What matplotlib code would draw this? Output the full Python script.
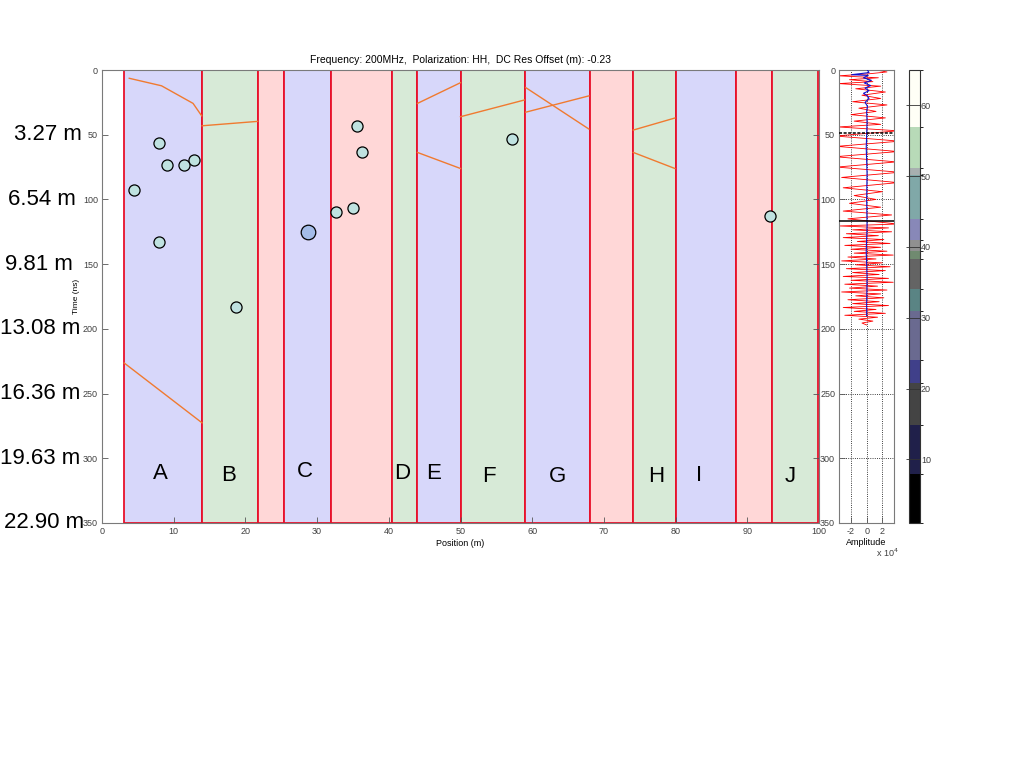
import matplotlib
matplotlib.use("Agg")
import matplotlib.pyplot as plt
from matplotlib.colors import ListedColormap, BoundaryNorm
from matplotlib.cm import ScalarMappable
from matplotlib.patches import Rectangle
from matplotlib.transforms import blended_transform_factory

plt.rcParams["font.family"] = ["Liberation Sans", "DejaVu Sans"]
plt.rcParams["axes.unicode_minus"] = False

TITLE = "Frequency: 200MHz,  Polarization: HH,  DC Res Offset (m): -0.23"

# zone edges along the profile (m) and fill type of each zone
zone_edges = [3.1, 13.95, 21.7, 25.4, 31.95, 40.4, 44.0, 50.0, 59.0, 68.0, 74.0, 80.0, 88.4, 93.4, 99.8]
zone_kind = ["b", "g", "p", "b", "p", "g", "b", "g", "b", "p", "g", "b", "p", "g"]
zone_fill = {"b": "#d7d7fa", "g": "#d7ead7", "p": "#ffd7d7"}

zone_letters = ["A", "B", "C", "D", "E", "F", "G", "H", "I", "J"]
letter_x = [8.1, 17.7, 28.3, 41.9, 46.3, 53.9, 63.5, 77.3, 83.3, 96.0]
letter_t = [312, 313, 310, 312, 312, 314, 314, 314, 313, 314]

# reflector segments: (x list, time list)
reflectors = [
    ([3.8, 8.3, 12.7, 13.9], [6.4, 12.2, 25.8, 35.4]),
    ([13.95, 21.7], [43.1, 39.7]),
    ([3.1, 13.95], [226.4, 272.6]),
    ([44.0, 50.0], [25.8, 9.8]),
    ([44.0, 50.0], [63.7, 76.1]),
    ([50.0, 58.9], [36.1, 23.2]),
    ([59.1, 67.9], [13.6, 45.6]),
    ([59.1, 67.9], [32.6, 20.0]),
    ([74.1, 79.9], [46.4, 37.1]),
    ([74.1, 79.9], [63.7, 76.1]),
]

# point targets
target_x = [7.95, 9.1, 11.5, 12.8, 4.4, 7.95, 35.6, 36.2, 32.6, 35.0, 18.75, 57.2, 93.2]
target_t = [56.7, 73.1, 73.1, 69.7, 93.1, 133.0, 43.3, 63.1, 109.8, 106.5, 182.9, 53.3, 113.0]
big_target_x = [28.7]
big_target_t = [125.0]

depth_ticks = [50, 100, 150, 200, 250, 300, 350]
depth_labels = ["3.27 m", "6.54 m", "9.81 m", "13.08 m", "16.36 m", "19.63 m", "22.90 m"]
depth_label_left_px = [14, 8, 5, 0, 0, 0, 4]

# single trace (amplitude in 1e4)
red_time = [0, 1.5, 3, 4.5, 6, 7.5, 9, 10.5, 12.5, 14.5, 17, 19.5, 22, 24.5, 27, 29.5, 32, 34.5,
            37, 39.5, 42, 44,
            47, 51, 55, 59, 63, 67, 71, 75, 79, 83, 87, 91, 94, 97, 100, 103, 106, 109, 112, 115, 119,
            120.5, 122, 123.5, 125, 126.5, 128, 129.5, 131, 132.5, 134, 135.5, 137, 138.5, 140,
            141.5, 143, 144.5, 146, 147.5, 149, 150.5, 152, 153.5, 155, 156.5, 158, 159.5, 161,
            162.5, 164, 165.5, 167, 168.5, 170, 171.5, 173, 174.5, 176, 177.5, 179, 180.5, 182,
            183.5, 185, 186.5, 188, 189.5, 191, 192.5, 194, 195.5, 197]
red_amp = [1.2, 2.6, 0.2, -3.6, 1.5, -2.2, 0.8, -3.6, 1.8, -1.4, 2.4, -0.6, 1.8, -1.8, 2.6, -1.0, 1.2, -2.0,
           2.4, -1.6, 1.8, -3.6,
           4.0, -4.0, 4.2, -3.8, 4.0, -4.0, 3.8, -3.8, 4.2, -3.2, 4.0, -3.0, 2.0, -1.6, 1.2, -2.2, 1.8,
           -3.0, 3.2, -2.4, 4.0,
           -3.5, 2.8, -1.8, 3.2, -2.6, 1.5, -3.0, 2.2, -1.2, 3.0, -2.8, 1.8, -2.0, 2.6,
           -1.6, 3.4, -2.4, 1.2, -3.2, 2.0, -1.4, 3.0, -2.6, 2.4, -1.8, 1.6, -3.0, 2.8,
           -2.0, 3.4, -2.8, 1.4, -2.2, 2.6, -3.2, 1.8, -1.4, 2.2, -2.4, 1.6, -1.8, 2.8,
           -3.0, 1.2, -1.6, 2.4, -2.8, 1.4, -1.0, 0.8, -0.6, 0.0]
blue_time = [0, 2, 3.6, 4.2, 6, 8, 10, 12, 14, 16, 18, 20, 22, 25, 28, 32, 40, 60, 80, 100, 120, 140, 160, 180, 190]
blue_amp = [0.1, 0.3, -1.9, 0.2, -0.4, 0.6, -0.3, 0.5, -0.2, 0.3, -0.4, 0.1, 0.3, -0.2, 0.1, 0.0, 0.05,
            -0.05, 0.05, 0.0, 0.05, -0.05, 0.05, 0.0, 0.0]
pick_dashed_t = 49
pick_solid_t = 117

# colour scale
cbar_bounds = [1, 7.9, 14.9, 20.8, 24.0, 30.9, 34.0, 38.3, 39.4, 41.0, 43.9, 50.1, 51.1, 57.0, 65]
cbar_colors = ["#000000", "#20204a", "#444444", "#40408a", "#6a6a90", "#5a8484", "#646464",
               "#708a70", "#909090", "#8888b8", "#80a8a8", "#a8b0b0", "#b8dab8", "#fffff6"]
cbar_ticks = [10, 20, 30, 40, 50, 60]

W, H = 1024, 768
TICK_COLOR = "#404040"
TICK_FS = 6.5


def style_axes(ax):
    for s in ax.spines.values():
        s.set_color("#7a7a7a")
        s.set_linewidth(0.8)
    ax.tick_params(direction="in", length=4, width=0.6, color="#555555",
                   labelsize=TICK_FS, labelcolor=TICK_COLOR, pad=3)


def main():
    fig = plt.figure(figsize=(W / 100, H / 100), dpi=100)
    y0, y1 = 70, 523
    ax = fig.add_axes([102 / W, 1 - y1 / H, 717 / W, (y1 - y0) / H])
    ax_tr = fig.add_axes([839.3 / W, 1 - y1 / H, 54.7 / W, (y1 - y0) / H])
    ax_cb = fig.add_axes([909 / W, 1 - y1 / H, 10.5 / W, (y1 - y0) / H])

    # main section
    for i, kind in enumerate(zone_kind):
        left, right = zone_edges[i], zone_edges[i + 1]
        ax.add_patch(Rectangle((left, 0), right - left, 350, facecolor=zone_fill[kind],
                               edgecolor="#e8102a", linewidth=1.3, zorder=1))
    for xs, ts in reflectors:
        ax.plot(xs, ts, color="#f07a30", linewidth=1.0, zorder=2)
    ax.plot(target_x, target_t, "o", markersize=8, markerfacecolor="#bfe2e0",
            markeredgecolor="black", markeredgewidth=0.9, zorder=3)
    ax.plot(big_target_x, big_target_t, "o", markersize=10.5, markerfacecolor="#a4bce8",
            markeredgecolor="black", markeredgewidth=0.9, zorder=3)
    for letter, lx, lt in zip(zone_letters, letter_x, letter_t):
        ax.text(lx, lt, letter, fontsize=16, ha="center", va="center", zorder=4)

    ax.set_xlim(0, 100)
    ax.set_ylim(350, 0)
    ax.set_xticks(range(0, 101, 10))
    ax.set_yticks(range(0, 351, 50))
    style_axes(ax)
    ax.tick_params(right=True)
    ax.set_title(TITLE, fontsize=7.5, pad=5)
    ax.set_xlabel("Position (m)", fontsize=6.5, labelpad=2)
    ax.set_ylabel("Time (ns)", fontsize=6, labelpad=2)

    trans = blended_transform_factory(fig.transFigure, ax.transData)
    for t, lab, px in zip(depth_ticks, depth_labels, depth_label_left_px):
        fig.text(px / W, t, lab, transform=trans, fontsize=16, ha="left", va="center")

    # trace panel
    ax_tr.plot(red_amp, red_time, color="red", linewidth=0.6, zorder=2)
    ax_tr.plot(blue_amp, blue_time, color="#1010d0", linewidth=0.8, zorder=3)
    ax_tr.axhline(pick_dashed_t, color="black", linewidth=1.1, linestyle="--", dashes=(2, 1), zorder=4)
    ax_tr.axhline(pick_solid_t, color="black", linewidth=1.1, zorder=4)
    ax_tr.set_xlim(-3.5, 3.5)
    ax_tr.set_ylim(350, 0)
    ax_tr.set_xticks([-2, 0, 2])
    ax_tr.set_yticks(range(0, 351, 50))
    ax_tr.grid(True, linestyle=":", color="black", linewidth=0.6)
    style_axes(ax_tr)
    ax_tr.set_xlabel("Amplitude", fontsize=6.5, labelpad=1)
    ax_tr.text(0.68, -0.066, r"x 10$^4$", transform=ax_tr.transAxes, fontsize=6.5,
               color=TICK_COLOR, ha="left", va="center")

    # colour bar
    cmap = ListedColormap(cbar_colors)
    norm = BoundaryNorm(cbar_bounds, cmap.N)
    cb = fig.colorbar(ScalarMappable(norm=norm, cmap=cmap), cax=ax_cb,
                      boundaries=cbar_bounds, spacing="proportional")
    cb.set_ticks(cbar_ticks)
    cb.outline.set_edgecolor("#333333")
    cb.outline.set_linewidth(0.8)
    ax_cb.tick_params(direction="in", length=10, width=0.6, color="#333333",
                      labelsize=TICK_FS, labelcolor=TICK_COLOR, pad=1)

    fig.savefig("out.png", dpi=100)
    plt.close(fig)


if __name__ == "__main__":
    main()
